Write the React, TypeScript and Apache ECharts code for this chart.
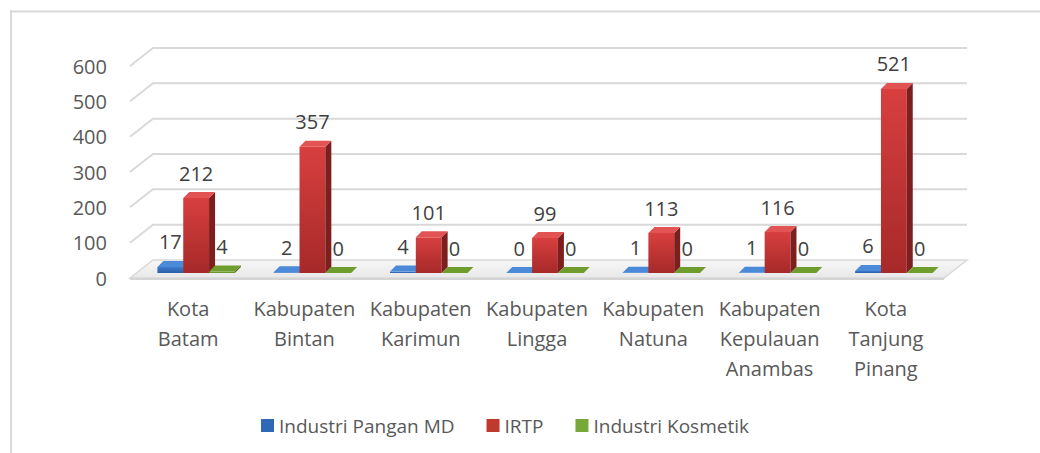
import React, { useEffect, useRef } from "react";
import * as echarts from "echarts";

const categories = [
  "Kota\nBatam",
  "Kabupaten\nBintan",
  "Kabupaten\nKarimun",
  "Kabupaten\nLingga",
  "Kabupaten\nNatuna",
  "Kabupaten\nKepulauan\nAnambas",
  "Kota\nTanjung\nPinang",
];
const seriesNames = ["Industri Pangan MD", "IRTP", "Industri Kosmetik"];
const panganMD = [17, 2, 4, 0, 1, 1, 6];
const irtp = [212, 357, 101, 99, 113, 116, 521];
const kosmetik = [4, 0, 0, 0, 0, 0, 0];
const yTicks = [0, 100, 200, 300, 400, 500, 600];

const FONT = '"Open Sans", "Noto Sans", sans-serif';

const palettes = [
  { front: ["#3c7bcc", "#2a5ea8"], side: "#1f4b88", top: "#4a8ad8", legend: "#2f69b5" },
  { front: ["#d83f3f", "#a62929"], side: "#7d1f1f", top: "#e25454", legend: "#c0392f" },
  { front: ["#7fae3a", "#5c8624"], side: "#45661a", top: "#6e9d2e", legend: "#79a83a" },
];

// perspective offsets
const WALL_DX = 23;
const WALL_DY = -18;
const BAR_SHIFT_X = 8;
const BAR_SHIFT_Y = -5;
const BOX_DX = 6;
const BOX_DY = -6;

function makeBarSeries(name: string, values: number[], sIdx: number) {
  const pal = palettes[sIdx];
  return {
    name,
    type: "custom",
    z: 3 + sIdx,
    itemStyle: { color: pal.legend },
    data: values.map((v, i) => [i, v]),
    encode: { x: 0, y: 1 },
    renderItem: (params: any, api: any) => {
      const cat = api.value(0);
      const val = api.value(1);
      const band = api.size([1, 0])[0];
      const w = band * 0.222;
      const top = api.coord([cat, val]);
      const base = api.coord([cat, 0]);
      const cx = top[0] + BAR_SHIFT_X + (sIdx - 1) * w;
      const xL = cx - w / 2;
      const xR = cx + w / 2;
      const yT = top[1] + BAR_SHIFT_Y;
      const yB = base[1] + BAR_SHIFT_Y;
      const children: any[] = [];
      if (yB - yT > 0.2) {
        children.push({
          type: "rect",
          shape: { x: xL, y: yT, width: w, height: yB - yT },
          style: {
            fill: new echarts.graphic.LinearGradient(0, 0, 0, 1, [
              { offset: 0, color: pal.front[0] },
              { offset: 1, color: pal.front[1] },
            ]),
          },
        });
        children.push({
          type: "polygon",
          shape: {
            points: [
              [xR, yT],
              [xR + BOX_DX, yT + BOX_DY],
              [xR + BOX_DX, yB + BOX_DY],
              [xR, yB],
            ],
          },
          style: { fill: pal.side },
        });
      }
      children.push({
        type: "polygon",
        shape: {
          points: [
            [xL, yT],
            [xR, yT],
            [xR + BOX_DX, yT + BOX_DY],
            [xL + BOX_DX, yT + BOX_DY],
          ],
        },
        style: { fill: pal.top },
      });
      children.push({
        type: "text",
        style: {
          text: String(val),
          x: cx,
          y: yT - 25,
          align: "center",
          verticalAlign: "middle",
          fill: "#404040",
          font: `20px ${FONT}`,
        },
      });
      return { type: "group", children };
    },
  };
}

export default function App() {
  const ref = useRef<HTMLDivElement>(null);
  useEffect(() => {
    if (!ref.current) return;
    const chart = echarts.init(ref.current, null, { renderer: "svg" });
    const option: any = {
      animation: false,
      backgroundColor: "#ffffff",
      textStyle: { fontFamily: FONT },
      grid: { left: 130, right: 96, top: 66, bottom: 175, containLabel: false },
      legend: {
        left: 261,
        top: 416,
        padding: 0,
        itemWidth: 13,
        itemHeight: 13,
        itemGap: 32,
        icon: "rect",
        data: seriesNames,
        textStyle: { fontSize: 19, color: "#595959", fontFamily: FONT },
      },
      xAxis: {
        type: "category",
        data: categories,
        axisLine: { show: false },
        axisTick: { show: false },
        axisLabel: {
          interval: 0,
          margin: 15,
          color: "#595959",
          fontSize: 20,
          lineHeight: 30,
          fontFamily: FONT,
        },
      },
      yAxis: {
        type: "value",
        min: 0,
        max: 600,
        interval: 100,
        axisLine: { show: false },
        axisTick: { show: false },
        splitLine: { show: false },
        axisLabel: { margin: 23, color: "#595959", fontSize: 20, fontFamily: FONT },
      },
      graphic: [
        {
          type: "line",
          shape: { x1: 11, y1: 10, x2: 11, y2: 453 },
          style: { stroke: "#d9d9d9", lineWidth: 2 },
        },
        {
          type: "line",
          shape: { x1: 10, y1: 11.5, x2: 1040, y2: 11.5 },
          style: { stroke: "#d9d9d9", lineWidth: 2 },
        },
      ],
      series: [
        {
          name: "grid3d",
          type: "custom",
          z: 1,
          silent: true,
          data: yTicks.map((v) => [0, v]),
          encode: { x: 0, y: 1 },
          renderItem: (params: any, api: any) => {
            const v = api.value(1);
            const cs = params.coordSys;
            const x0 = cs.x;
            const x1 = cs.x + cs.width;
            const y = api.coord([0, v])[1];
            if (v === 0) {
              return {
                type: "group",
                children: [
                  {
                    type: "polygon",
                    shape: {
                      points: [
                        [x0, y],
                        [x1, y],
                        [x1 + WALL_DX, y + WALL_DY],
                        [x0 + WALL_DX, y + WALL_DY],
                      ],
                    },
                    style: {
                      fill: new echarts.graphic.LinearGradient(0, 0, 0, 1, [
                        { offset: 0, color: "#f7f7f7" },
                        { offset: 1, color: "#e8e8e8" },
                      ]),
                      stroke: "#d9d9d9",
                      lineWidth: 1.5,
                    },
                  },
                  {
                    type: "rect",
                    shape: { x: x0, y: y, width: x1 - x0, height: 2 },
                    style: { fill: "#d4d4d4" },
                  },
                ],
              };
            }
            return {
              type: "polyline",
              shape: {
                points: [
                  [x0, y],
                  [x0 + WALL_DX, y + WALL_DY],
                  [x1 + WALL_DX, y + WALL_DY],
                ],
              },
              style: { stroke: "#d9d9d9", lineWidth: 2, fill: null },
            };
          },
        },
        makeBarSeries(seriesNames[0], panganMD, 0),
        makeBarSeries(seriesNames[1], irtp, 1),
        makeBarSeries(seriesNames[2], kosmetik, 2),
      ],
    };
    chart.setOption(option);
    return () => chart.dispose();
  }, []);
  return (
    <div
      ref={ref}
      style={{ position: "fixed", left: 0, top: 0, width: 1040, height: 453 }}
    />
  );
}
